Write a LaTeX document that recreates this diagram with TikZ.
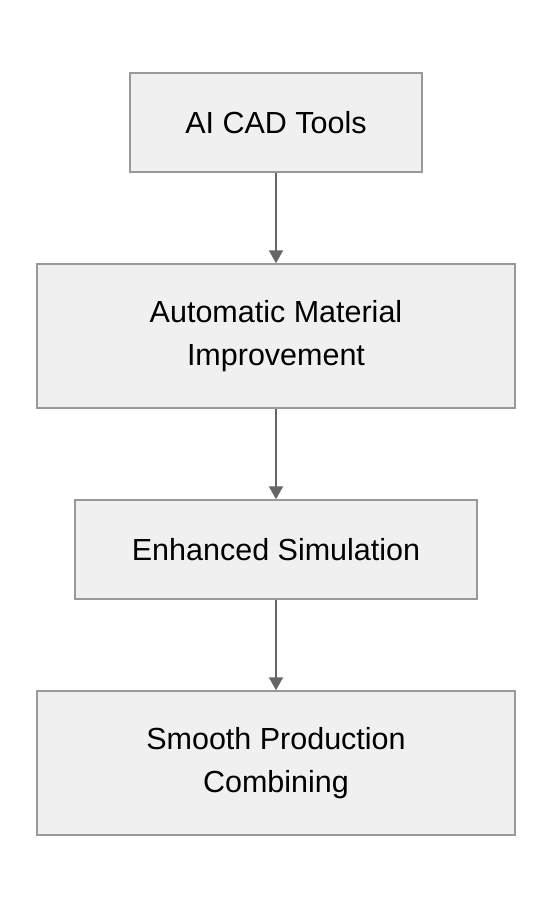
\documentclass[tikz,border=0pt]{standalone}
\usepackage{fontspec}
\setmainfont{Liberation Sans}
\usetikzlibrary{arrows.meta}
\tikzstyle{stage} = [draw=black!40,fill=black!6,line width=1.5pt,align=center,inner sep=0pt,font=\fontsize{30.5}{43}\selectfont]
\tikzstyle{arrow} = [draw=black!60,line width=2pt,-{Triangle[length=13pt,width=14pt]}]

\begin{document}
\begin{tikzpicture}[x=1pt,y=-1pt]   % AI CAD flow

        \useasboundingbox (0,0) rectangle (552,908);

        % Top stage
        \node[stage,minimum width=292pt,minimum height=99pt] (cad) at (276,122.5) {AI CAD Tools};

        % Material stage
        \node[stage,minimum width=478pt,minimum height=144pt] (material) at (276,336) {Automatic Material\\Improvement};

        % Simulation stage
        \node[stage,minimum width=402pt,minimum height=99pt] (sim) at (276,549.5) {Enhanced Simulation};

        % Production stage
        \node[stage,minimum width=478pt,minimum height=144pt] (prod) at (276,763) {Smooth Production\\Combining};

        % Arrows between stages
        \draw[arrow] (cad) -- (material);       % cad -> material
        \draw[arrow] (material) -- (sim);       % material -> sim
        \draw[arrow] (sim) -- (prod);           % sim -> prod

\end{tikzpicture}
\end{document}
